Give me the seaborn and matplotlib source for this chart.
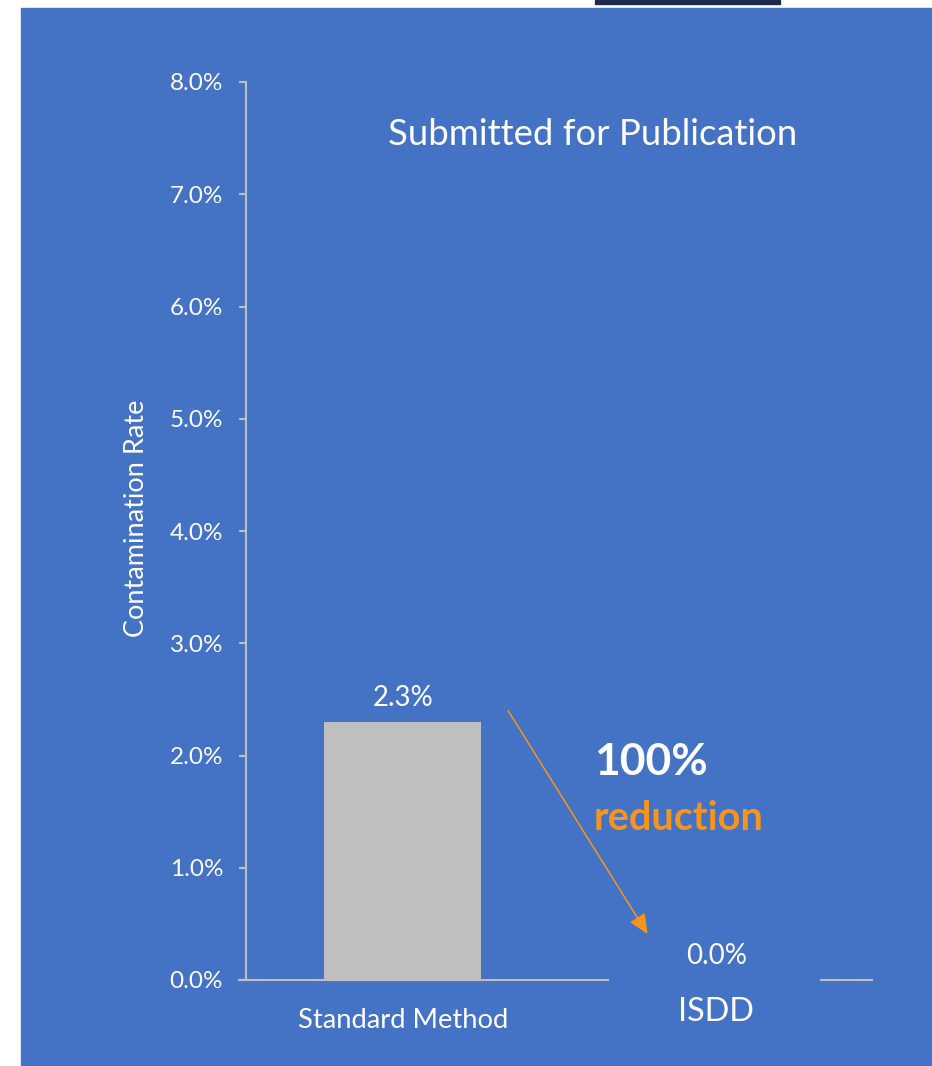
import matplotlib
matplotlib.use("Agg")
import matplotlib.pyplot as plt
import matplotlib.patches as mpatches
import seaborn as sns
import pandas as pd
from matplotlib.ticker import FuncFormatter

# ---- data ----
categories = ["Standard Method", "ISDD"]
rates = [2.3, 0.0]          # contamination rate, %
bar_labels = ["2.3%", "0.0%"]
yticks = [0, 1, 2, 3, 4, 5, 6, 7, 8]
title_text = "Submitted for Publication"
ylabel_text = "Contamination Rate"
callout_main = "100%"
callout_sub = "reduction"

BLUE = "#4472C4"
GRAY = "#BFBFBF"
ORANGE = "#F7941D"
WHITE = "#FFFFFF"

sns.set_theme(style="white")
plt.rcParams["font.family"] = ["Lato", "DejaVu Sans"]

W, H = 932, 1066
fig = plt.figure(figsize=(W / 100, H / 100), dpi=100, facecolor="white")

# slide background
fig.patches.append(mpatches.Rectangle((21 / W, 0), 1 - 21 / W, (H - 8) / H,
                                      transform=fig.transFigure, color=BLUE, zorder=-10))
fig.patches.append(mpatches.Rectangle((595 / W, (H - 4) / H), 185 / W, 4 / H,
                                      transform=fig.transFigure, color="#1B2A4A", zorder=-10))

ax = fig.add_axes([246 / W, 1 - 980 / H, 627 / W, 898 / H])
ax.set_zorder(5)
ax.set_facecolor("none")

df = pd.DataFrame({"cat": categories, "rate": rates})
sns.barplot(data=df, x="cat", y="rate", color=GRAY, saturation=1, width=0.5, ax=ax)
for p in ax.patches:
    p.set_edgecolor("none")

ax.set_xlim(-0.5, 1.5)
ax.set_ylim(0, 8)
ax.set_yticks(yticks)
ax.yaxis.set_major_formatter(FuncFormatter(lambda v, _: f"{v:.1f}%"))

for s in ["top", "right", "bottom"]:
    ax.spines[s].set_visible(False)
ax.spines["left"].set_color(GRAY)
ax.spines["left"].set_linewidth(1.5)

ax.tick_params(axis="y", which="both", left=True, length=5, width=1.5, color=GRAY,
               labelcolor=WHITE, labelsize=17.5, pad=11.5)
ax.tick_params(axis="x", bottom=False, labelcolor=WHITE, pad=14)

# baseline segments (partly hidden in the original)
ax.hlines(0, -0.524, 0.657, color=GRAY, lw=1.5, clip_on=False, zorder=3)
ax.hlines(0, 1.331, 1.5, color=GRAY, lw=1.5, clip_on=False, zorder=3)

ax.set_xlabel("")
ax.set_xticks(range(len(categories)))
ax.set_xticklabels(categories)
xt = ax.get_xticklabels()
xt[0].set_fontsize(19.7)
xt[1].set_fontsize(23.3)
xticks_objs = ax.xaxis.get_major_ticks()
xticks_objs[1].set_pad(6)

ax.set_ylabel(ylabel_text, color=WHITE, fontsize=19.5)
ax.yaxis.set_label_coords(-0.155, 0.514)

ax.bar_label(ax.containers[0], labels=bar_labels, color=WHITE, fontsize=19.9, padding=8)

ax.text(-0.047, 7.53, title_text, color=WHITE, fontsize=26.3, va="center", ha="left")
ax.text(0.611, 1.94, callout_main, color=WHITE, fontsize=32, fontweight="bold",
        va="center", ha="left")
ax.text(0.608, 1.44, callout_sub, color=ORANGE, fontsize=28.5, fontweight="bold",
        va="center", ha="left")

ax.annotate("", xy=(0.781, 0.41), xytext=(0.336, 2.40),
            arrowprops=dict(arrowstyle="-|>,head_length=1.0,head_width=0.45",
                            color=ORANGE, lw=1.1, shrinkA=0, shrinkB=0))

fig.savefig("out.png", dpi=100, facecolor="white")
